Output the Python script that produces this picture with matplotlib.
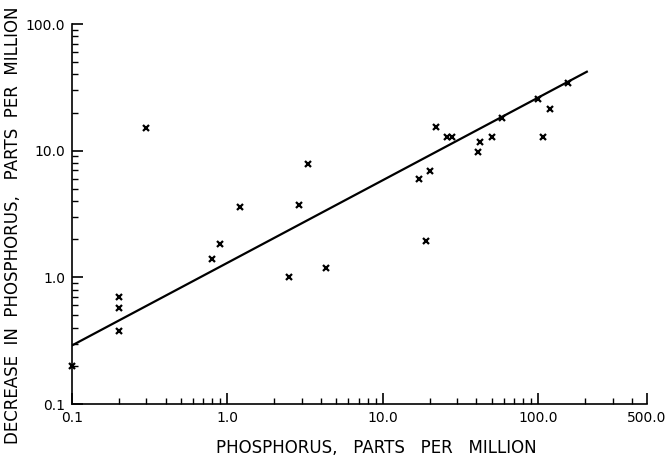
import matplotlib.pyplot as plt
from matplotlib.ticker import FixedLocator, FixedFormatter, LogLocator, NullFormatter

# phosphorus (ppm) vs decrease in phosphorus (ppm)
phos = [0.1, 0.2, 0.2, 0.2, 0.3, 0.8, 0.9, 1.2, 2.5, 2.9, 3.3, 4.3,
        17, 20, 19, 22, 26, 28, 41, 42, 50, 58, 100, 107, 118, 155]
decrease = [0.2, 0.7, 0.57, 0.38, 15, 1.4, 1.85, 3.6, 1.0, 3.7, 7.8, 1.18,
            6.0, 6.9, 1.95, 15.5, 12.8, 12.8, 9.8, 11.7, 12.8, 18, 25.5, 12.8, 21.3, 34]

# fitted line end points
line_x = [0.1, 205]
line_y = [0.29, 42]

x_ticks = [0.1, 1.0, 10.0, 100.0, 500.0]
x_labels = ['0.1', '1.0', '10.0', '100.0', '500.0']
y_ticks = [0.1, 1.0, 10.0, 100.0]
y_labels = ['0.1', '1.0', '10.0', '100.0']

plt.rcParams['font.family'] = ['DejaVu Sans']
fig = plt.figure(figsize=(6.66, 4.59), dpi=100)
ax = fig.add_axes([0.1081, 0.1198, 0.8634, 0.8279])

ax.plot(line_x, line_y, color='black', linewidth=1.6)
ax.plot(phos, decrease, linestyle='none', marker='x', color='black',
        markersize=5, markeredgewidth=1.6, clip_on=False)

ax.set_xscale('log')
ax.set_yscale('log')
ax.set_xlim(0.1, 500)
ax.set_ylim(0.1, 100)

ax.xaxis.set_major_locator(FixedLocator(x_ticks))
ax.xaxis.set_major_formatter(FixedFormatter(x_labels))
ax.yaxis.set_major_locator(FixedLocator(y_ticks))
ax.yaxis.set_major_formatter(FixedFormatter(y_labels))
ax.xaxis.set_minor_locator(LogLocator(base=10, subs=range(2, 10)))
ax.yaxis.set_minor_locator(LogLocator(base=10, subs=range(2, 10)))
ax.xaxis.set_minor_formatter(NullFormatter())
ax.yaxis.set_minor_formatter(NullFormatter())

ax.spines['top'].set_visible(False)
ax.spines['right'].set_visible(False)
ax.spines['left'].set_linewidth(1.2)
ax.spines['bottom'].set_linewidth(1.2)
ax.tick_params(which='major', direction='in', length=8, width=1.2,
               labelsize=10, pad=5)
ax.tick_params(which='minor', direction='in', length=4, width=1.0)

ax.set_xlabel('PHOSPHORUS,   PARTS   PER   MILLION', fontsize=12)
ax.xaxis.set_label_coords(0.529, -0.092)
ax.set_ylabel('DECREASE  IN  PHOSPHORUS,   PARTS  PER  MILLION', fontsize=12)
ax.yaxis.set_label_coords(-0.087, 0.47)

fig.savefig('out.png', dpi=100)
